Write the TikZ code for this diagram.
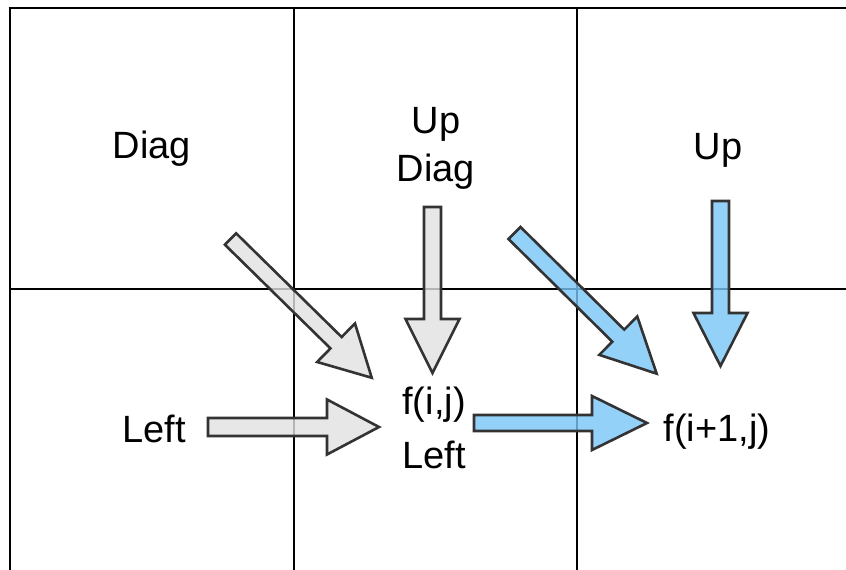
\documentclass[tikz,border=0pt]{standalone}
\usepackage{fontspec}
\setmainfont{Liberation Sans}
\definecolor{arrowgray}{HTML}{E2E2E2}
\definecolor{arrowblue}{HTML}{78C6F8}
\definecolor{edgecol}{HTML}{333333}
\newcommand\blockarrow[8]{% style, tail x, tail y, angle, length, head length, half head width, half shaft width
  \begin{scope}[shift={(#2,#3)},rotate=#4]
    \draw[#1] (0,-#8) -- ({#5-#6},-#8) -- ({#5-#6},-#7) -- (#5,0) -- ({#5-#6},#7) -- ({#5-#6},#8) -- (0,#8) -- cycle;
  \end{scope}}
\tikzset{
  gridline/.style={line width=2.9pt, black},
  grayarrow/.style={line width=2.6pt, draw=edgecol, fill=arrowgray, fill opacity=0.8, line join=miter},
  bluearrow/.style={line width=2.6pt, draw=edgecol, fill=arrowblue, fill opacity=0.8, line join=miter},
  lbl/.style={inner sep=0pt, font=\fontsize{38}{48}\selectfont, text=black}
}
\begin{document}
\begin{tikzpicture}[x=1pt,y=1pt]
\useasboundingbox (0,0) rectangle (846,570);
\fill[white] (0,0) rectangle (846,570);
% grid
\draw[gridline] (10,0) -- (10,562);
\draw[gridline] (8.55,562) -- (846,562);
\draw[gridline] (294,0) -- (294,562);
\draw[gridline] (577,0) -- (577,562);
\draw[gridline] (10,281) -- (846,281);
% gray arrows
\blockarrow{grayarrow}{230.5}{331}{-44.5}{198}{50}{27}{8}
\blockarrow{grayarrow}{432.5}{363}{-90}{166}{54}{27}{8.5}
\blockarrow{grayarrow}{208}{143}{0}{171}{52}{27.5}{9}
% blue arrows
\blockarrow{bluearrow}{514.5}{337}{-44.7}{200}{54}{27}{8.5}
\blockarrow{bluearrow}{720.5}{369}{-90}{165}{53}{27}{8.5}
\blockarrow{bluearrow}{474}{147}{0}{173}{55}{27}{8}
% labels
\node[lbl, anchor=base] (diag) at (152,411) {Diag};
\node[lbl, align=center] (updiag) at (436,421.5) {Up\\Diag};
\node[lbl, anchor=base] (up) at (718,410) {Up};
\node[lbl, anchor=base] (left) at (154,127) {Left};
\node[lbl, align=center, font=\fontsize{38}{54}\selectfont] (fij) at (434,142) {f(i,j)\\Left};
\node[lbl, anchor=base] (fi1j) at (717,128) {f(i+1,j)};
\end{tikzpicture}
\end{document}
